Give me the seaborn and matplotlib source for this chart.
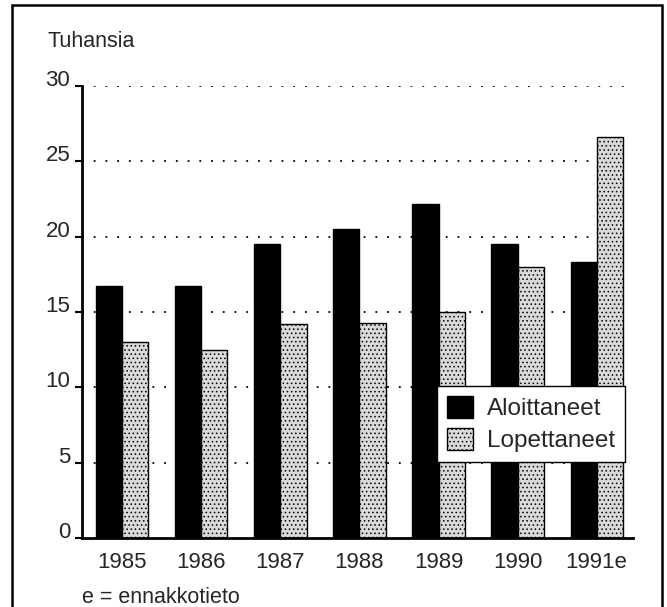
import matplotlib
matplotlib.use("Agg")
import matplotlib.pyplot as plt
import seaborn as sns
import pandas as pd
from matplotlib.patches import Rectangle, Patch

years = ["1985", "1986", "1987", "1988", "1989", "1990", "1991e"]
aloittaneet = [16.7, 16.7, 19.5, 20.5, 22.2, 19.5, 18.3]
lopettaneet = [13.0, 12.5, 14.2, 14.3, 15.0, 18.0, 26.6]
series = ["Aloittaneet", "Lopettaneet"]

df = pd.DataFrame({
    "year": years * 2,
    "value": aloittaneet + lopettaneet,
    "series": [series[0]] * len(years) + [series[1]] * len(years),
})

sns.set_theme(style="white")
plt.rcParams["font.family"] = ["Liberation Sans", "DejaVu Sans"]
plt.rcParams["hatch.color"] = "#555555"
plt.rcParams["hatch.linewidth"] = 0.6

W, H = 667, 607
fig = plt.figure(figsize=(6.67, 6.07), dpi=100)
ax = fig.add_axes([82 / W, 1 - 538 / H, (633 - 82) / W, (538 - 86) / H])

sns.barplot(data=df, x="year", y="value", hue="series", order=years,
            hue_order=series, palette=["black", "#d9d9d9"], width=0.66,
            ax=ax, legend=False, saturation=1)

n = len(years)
for i, p in enumerate(ax.patches[:2 * n]):
    p.set_edgecolor("black")
    p.set_linewidth(1.0)
    if i >= n:
        p.set_hatch("....")

ax.set_ylim(0, 30)
ax.set_xlim(-0.51, 6.46)
ax.set_yticks([0, 5, 10, 15, 20, 25, 30])
ax.set_xlabel("")
ax.set_ylabel("")
for s in ["top", "right"]:
    ax.spines[s].set_visible(False)
for s in ["left", "bottom"]:
    ax.spines[s].set_linewidth(2.0)
    ax.spines[s].set_color("black")
ax.tick_params(axis="y", left=True, length=5, width=1.5, color="black",
               labelsize=16, pad=3.5)
ax.tick_params(axis="x", bottom=False, length=0, labelsize=16, pad=10)
for lab in ax.get_yticklabels():
    lab.set_va("baseline")
for t in [5, 10, 15, 20, 25, 30]:
    ax.axhline(t, color="black", linestyle=(0, (1, 5.5)), linewidth=1.3, zorder=0)
ax.set_axisbelow(True)

handles = [Patch(facecolor="black", edgecolor="black", label=series[0]),
           Patch(facecolor="#d9d9d9", edgecolor="black", hatch="....", label=series[1])]
leg = ax.legend(handles=handles, loc="upper left",
                bbox_to_anchor=((437 - 82) / (633 - 82), (538 - 386) / (538 - 86)),
                frameon=True, fancybox=False, fontsize=17.5, handlelength=1.1,
                handleheight=1.05, borderpad=0.4, labelspacing=0.3,
                handletextpad=0.55, borderaxespad=0, framealpha=1)
leg.get_frame().set_edgecolor("black")
leg.get_frame().set_facecolor("white")
leg.get_frame().set_linewidth(1.0)

fig.text(47 / W, 1 - 47 / H, "Tuhansia", fontsize=15.5, va="baseline", ha="left")
fig.text(82 / W, 1 - 603 / H, "e = ennakkotieto", fontsize=15.5, va="baseline", ha="left")

fig.patches.append(Rectangle((12 / W, -0.01), 650 / W, 1 - 5 / H + 0.01,
                             transform=fig.transFigure, fill=False,
                             edgecolor="black", linewidth=1.8))

fig.savefig("out.png", dpi=100)
